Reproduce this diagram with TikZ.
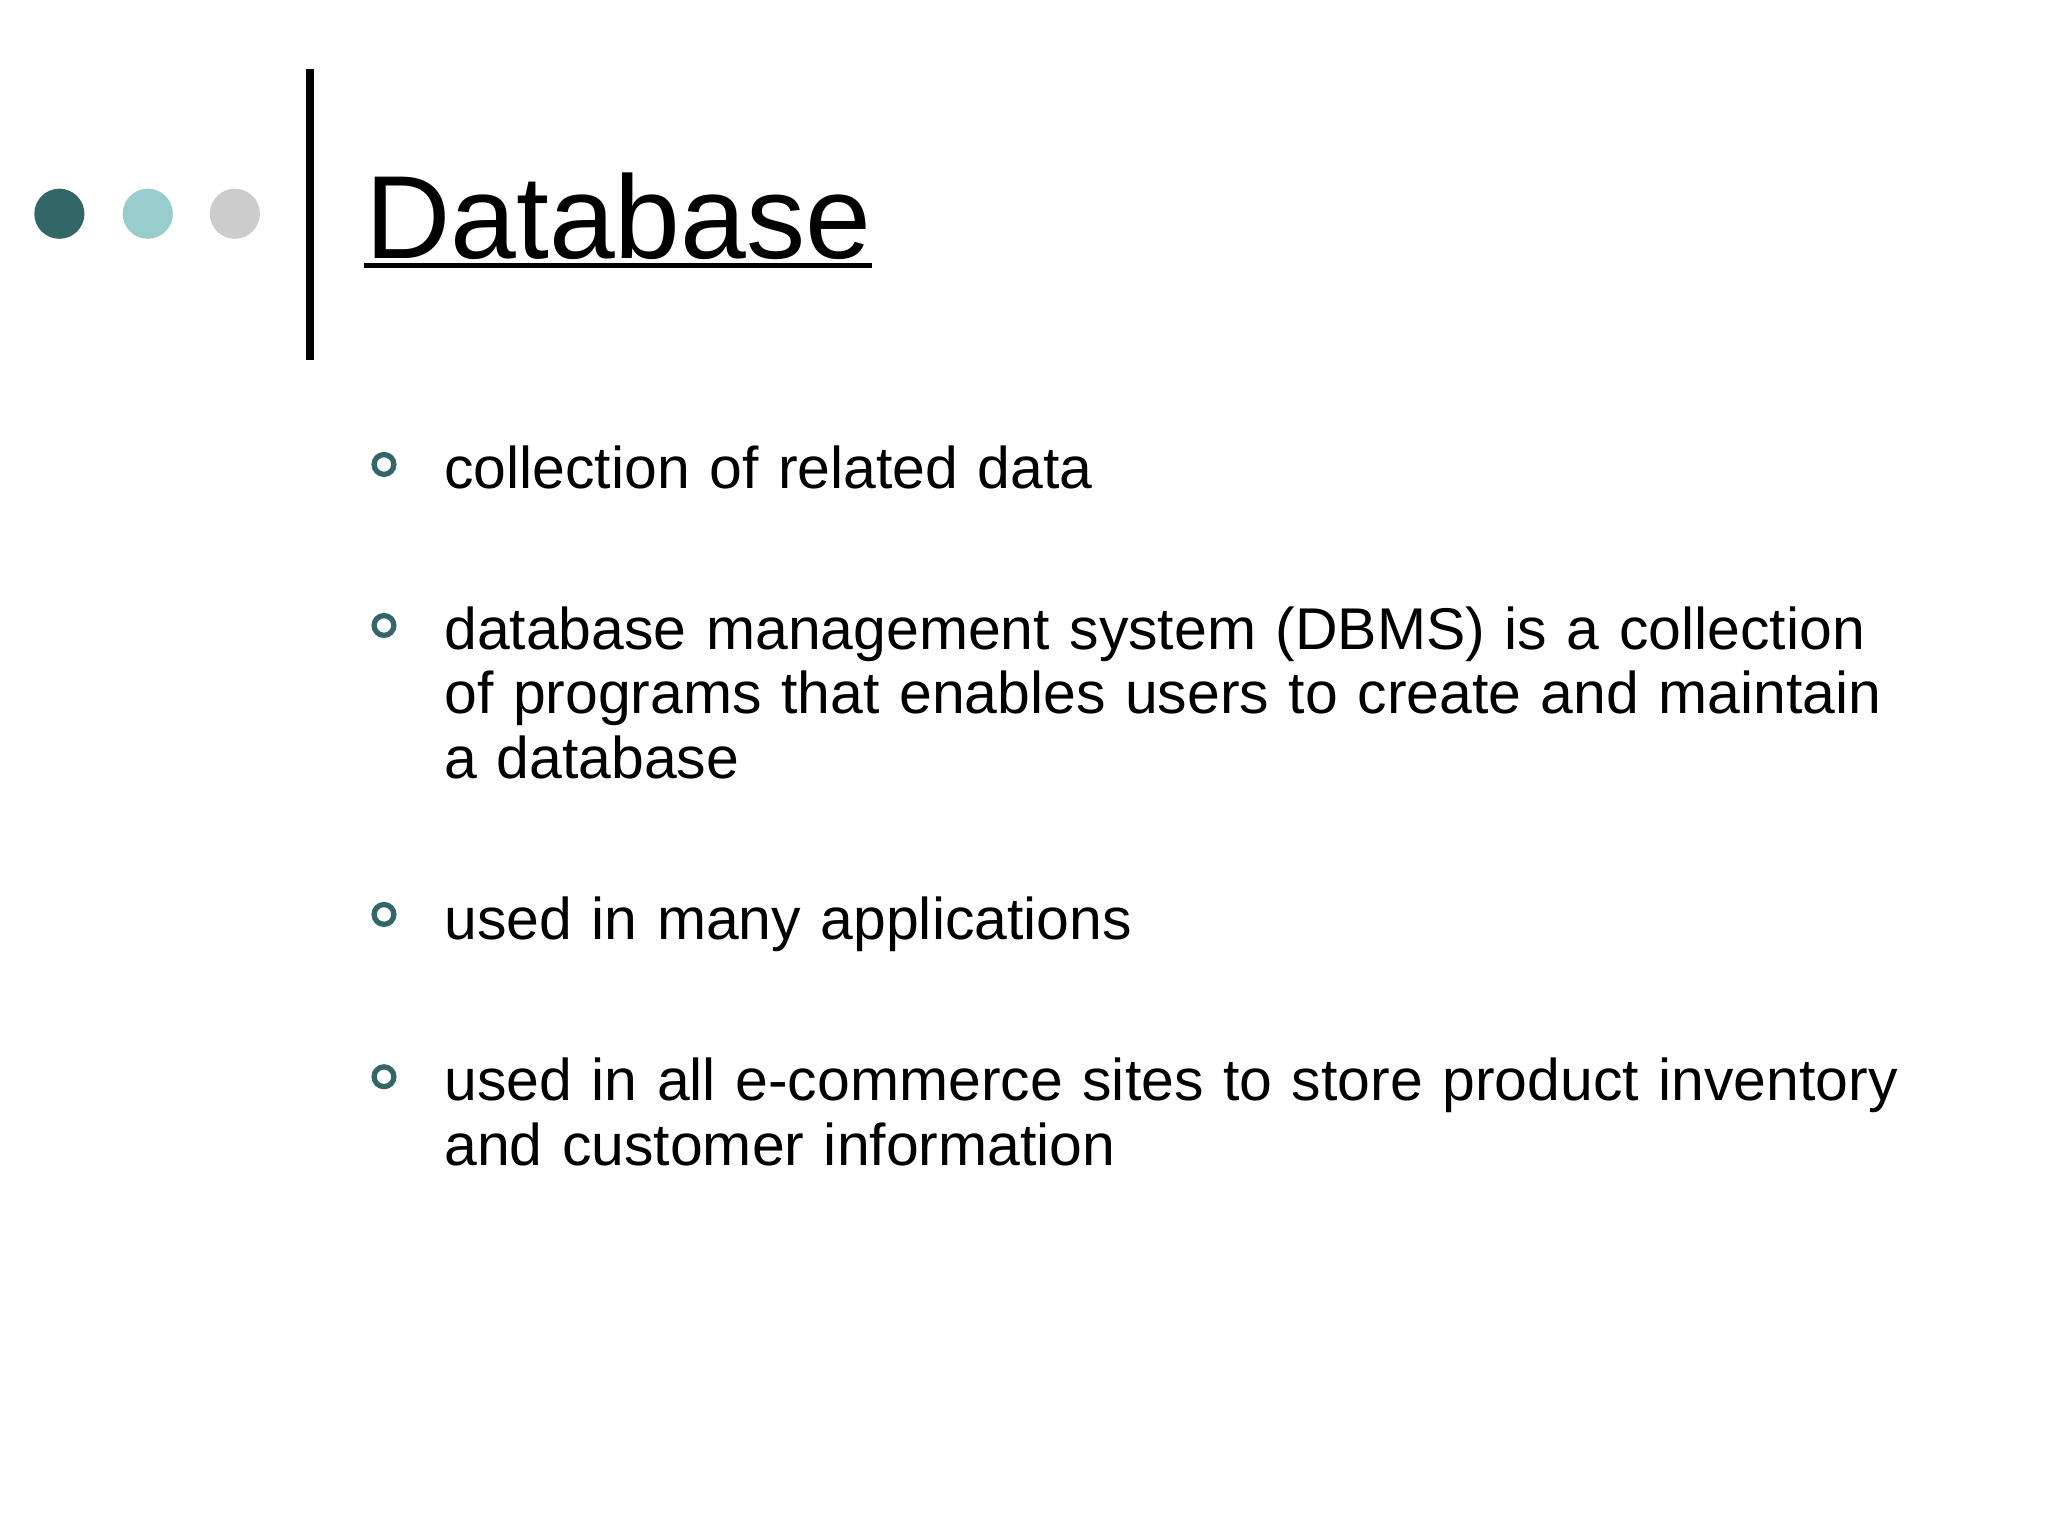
\documentclass[tikz,border=0pt]{standalone}
\usepackage{fontspec}
\setmainfont{Liberation Sans}
\definecolor{teal1}{HTML}{336666}
\definecolor{teal2}{HTML}{99CCCC}
\definecolor{grey1}{HTML}{CCCCCC}
\begin{document}
\begin{tikzpicture}[x=1cm,y=1cm,
  dot/.style={circle,minimum size=0.38cm,inner sep=0pt},
  bul/.style={circle,draw=teal1,line width=0.04cm,minimum size=0.15cm,inner sep=0pt},
  body/.style={anchor=base west,inner sep=0pt,align=left,text width=11.9cm,font=\fontsize{12.7pt}{13.95pt}\selectfont}]
\useasboundingbox[fill=white] (0,0) rectangle (15.52,11.64);
\node[dot,fill=teal1] (d1) at (0.45,10.02) {};
\node[dot,fill=teal2] (d2) at (1.12,10.02) {};
\node[dot,fill=grey1] (d3) at (1.78,10.02) {};
\draw[line width=0.06cm] (2.35,11.12) -- (2.35,8.91);
\node[anchor=base west,inner sep=0pt,font=\fontsize{25.5pt}{30pt}\selectfont] (title) at (2.76,9.68) {Database};
\draw[line width=0.035cm] ([yshift=-0.05cm]title.base west) -- ([yshift=-0.05cm]title.base east);
\node[bul] (b1) at (2.91,8.12) {};
\node[body] (t1) at (3.36,7.94) {collection of related data};
\node[bul] (b2) at (2.91,6.90) {};
\node[body] (t2) at (3.36,6.72) {database management system (DBMS) is a collection\\of programs that enables users to create and maintain\\a database};
\node[bul] (b3) at (2.91,4.71) {};
\node[body] (t3) at (3.36,4.52) {used in many applications};
\node[bul] (b4) at (2.91,3.48) {};
\node[body] (t4) at (3.36,3.30) {used in all e-commerce sites to store product inventory\\and customer information};
\end{tikzpicture}
\end{document}
